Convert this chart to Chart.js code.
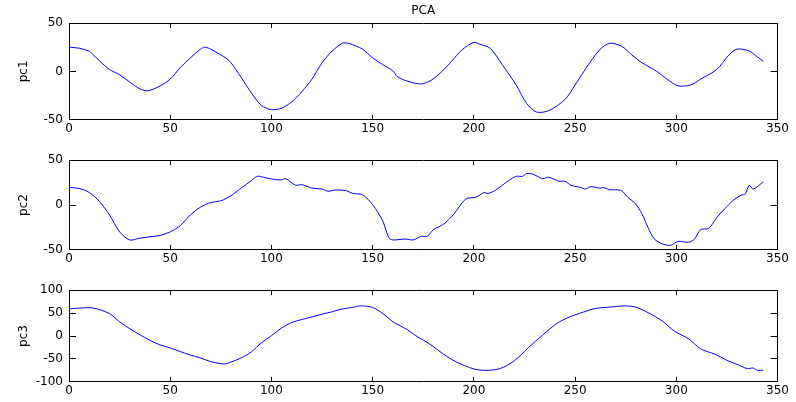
<!DOCTYPE html>
<html>
<head>
<meta charset="utf-8">
<script src="https://cdn.jsdelivr.net/npm/chart.js@4.4.1/dist/chart.umd.min.js"></script>
<style>
    body { margin: 0; background: #fff; }
    #wrap { position: relative; width: 796px; height: 402px; }
    canvas { position: absolute; left: 0; }
</style>
</head>
<body>
<div id="wrap">
    <canvas id="c1" width="796" height="140" style="top:0px"></canvas>
    <canvas id="c2" width="796" height="130" style="top:140px"></canvas>
    <canvas id="c3" width="796" height="132" style="top:270px"></canvas>
</div>
<script>
// values
const pc1X = [0, 5, 10, 11, 15, 20, 25, 30, 35, 39, 45, 50, 55, 60, 65, 67, 70, 75, 78, 80, 85, 90, 95, 100, 105, 110, 115, 120, 125, 130, 135, 138, 142, 145, 150, 155, 160, 162, 167, 174, 179, 184, 189, 194, 200, 203, 208, 214, 221, 226, 231, 237, 245, 250, 255, 262, 267, 273, 278, 283, 290, 296, 301, 307, 312, 320, 326, 330, 336, 340, 343];
const pc1Y = [25, 24, 21, 19, 11, 2, -3.5, -11, -18, -20, -15, -8, 4, 14, 23, 25, 23, 17, 13, 9, -6, -22, -35, -39.5, -38, -31.5, -21, -8, 9, 21, 29, 29, 26, 23, 14, 7, 0.5, -5, -10, -13, -9, -0.5, 10.5, 22, 30, 28, 24, 7, -14.5, -33, -42, -40.5, -29, -14, 2, 22, 29, 26, 17, 9, 0.5, -9, -15, -14, -8, 2, 17, 23, 21, 15, 10.5];

const pc2X = [0, 5, 10, 15, 20, 25, 30, 35, 40, 45, 50, 55, 60, 65, 70, 75, 80, 85, 90, 93, 96, 100, 105, 107, 112, 115, 120, 125, 128, 132, 137, 140, 145, 150, 155, 158, 160, 166, 170, 174, 177, 180, 185, 190, 196, 201, 205, 207, 211, 217, 221, 224, 226, 229, 234, 237, 242, 245, 248, 253, 255, 258, 262, 264, 267, 270, 273, 276, 280, 283, 286, 289, 293, 297, 301, 306, 309, 312, 316, 320, 324, 328, 332, 334, 336, 338, 343];
const pc2Y = [19.5, 18.5, 14, 4, -11, -30, -39, -37, -35.5, -34, -30, -23, -11, -2.3, 2.7, 4.7, 10.4, 18.8, 27, 32, 31, 29, 28, 29.5, 22, 22.8, 18.8, 17.8, 15.4, 16.8, 16, 13, 11.4, 0.3, -18, -36.6, -39, -38, -39, -35, -35, -27.5, -21.5, -10.4, 6.7, 8.7, 13.8, 12.8, 17, 27, 32, 32, 35, 34.5, 29.5, 31, 26.5, 26.5, 22, 19.5, 17.8, 20.5, 18.8, 19.5, 17, 17, 16, 8.7, 1, -9.7, -25, -37.6, -43.3, -45, -40.6, -41.6, -38, -27.5, -26, -14, -4, 5, 11, 12, 22, 17.8, 26];

const pc3X = [0, 5, 12, 20, 25, 30, 35, 40, 45, 50, 55, 60, 65, 70, 77, 80, 85, 90, 95, 100, 105, 110, 115, 120, 125, 130, 135, 140, 144, 150, 155, 160, 162, 167, 172, 178, 185, 191, 200, 206, 213, 220, 227, 234, 241, 247, 254, 260, 267, 275, 280, 286, 293, 299, 306, 312, 319, 325, 330, 335, 338, 340, 343];
const pc3Y = [59, 61, 61, 49, 31, 16, 2.7, -9.4, -19.5, -26, -34, -41.6, -48, -56, -61, -57, -48, -35, -15, 0.7, 17.4, 29.5, 36, 41.6, 47.6, 53, 59, 62.4, 65.8, 62.4, 49, 31, 26, 14, -1.3, -17, -39.6, -56, -72, -75, -71, -54, -25, 2, 27.5, 41, 52, 60, 63, 65.8, 63, 51, 33, 10.7, -6, -28, -39.6, -53, -62, -71, -70, -75, -74.5];

const xTicks = [0, 50, 100, 150, 200, 250, 300, 350];

const FONT = { family: 'DejaVu Sans', size: 12 };

// builds one matlab-style subplot: box, inward ticks on all four sides
function makePanel(id, xs, ys, yLabel, yMin, yMax, yStep, box, title) {
    const points = xs.map((x, i) => ({ x: x, y: ys[i] }));

    const xCommon = {
        type: 'linear',
        min: xTicks[0],
        max: xTicks[xTicks.length - 1],
        ticks: { stepSize: 50, color: '#000', font: FONT, padding: 7, maxRotation: 0 },
        grid: { drawOnChartArea: false, tickLength: -5, color: '#000' },
        border: { color: '#000', width: 1 }
    };
    const yCommon = {
        type: 'linear',
        min: yMin,
        max: yMax,
        ticks: { stepSize: yStep, color: '#000', font: FONT, padding: 13 },
        grid: { drawOnChartArea: false, tickLength: -7, color: '#000' },
        border: { color: '#000', width: 1 }
    };

    return new Chart(document.getElementById(id), {
        type: 'line',
        data: {
            datasets: [{
                label: yLabel,
                data: points,
                borderColor: '#0000ff',
                borderWidth: 1,
                pointRadius: 0,
                tension: 0.3,
                fill: false
            }]
        },
        options: {
            responsive: false,
            animation: false,
            layout: { padding: { top: box.padTop, right: 13, bottom: 0, left: 0 } },
            plugins: {
                legend: { display: false },
                tooltip: { enabled: false },
                title: title ? {
                    display: true,
                    text: title,
                    fullSize: false,
                    color: '#000',
                    font: { family: 'DejaVu Sans', size: 12, weight: 'normal' },
                    padding: { top: 3.6, bottom: 5 }
                } : { display: false }
            },
            scales: {
                x: Object.assign({}, xCommon, {
                    position: 'bottom',
                    afterFit: s => { s.height = box.xHeight; }
                }),
                x2: Object.assign({}, xCommon, {
                    axis: 'x',
                    position: 'top',
                    ticks: Object.assign({}, xCommon.ticks, { display: false }),
                    afterFit: s => { s.height = 0; }
                }),
                y: Object.assign({}, yCommon, {
                    position: 'left',
                    title: {
                        display: true,
                        text: yLabel,
                        color: '#000',
                        font: FONT,
                        padding: { top: 17, bottom: 0 }
                    },
                    afterFit: s => { s.width = 69; }
                }),
                y2: Object.assign({}, yCommon, {
                    axis: 'y',
                    position: 'right',
                    ticks: Object.assign({}, yCommon.ticks, { display: false }),
                    afterFit: s => { s.width = 0; }
                })
            }
        }
    });
}

makePanel('c1', pc1X, pc1Y, 'pc1', -50, 50, 50, { padTop: 0, xHeight: 18 }, 'PCA');
makePanel('c2', pc2X, pc2Y, 'pc2', -50, 50, 50, { padTop: 14, xHeight: 17 }, null);
makePanel('c3', pc3X, pc3Y, 'pc3', -100, 100, 50, { padTop: 15, xHeight: 17 }, null);
</script>
</body>
</html>
